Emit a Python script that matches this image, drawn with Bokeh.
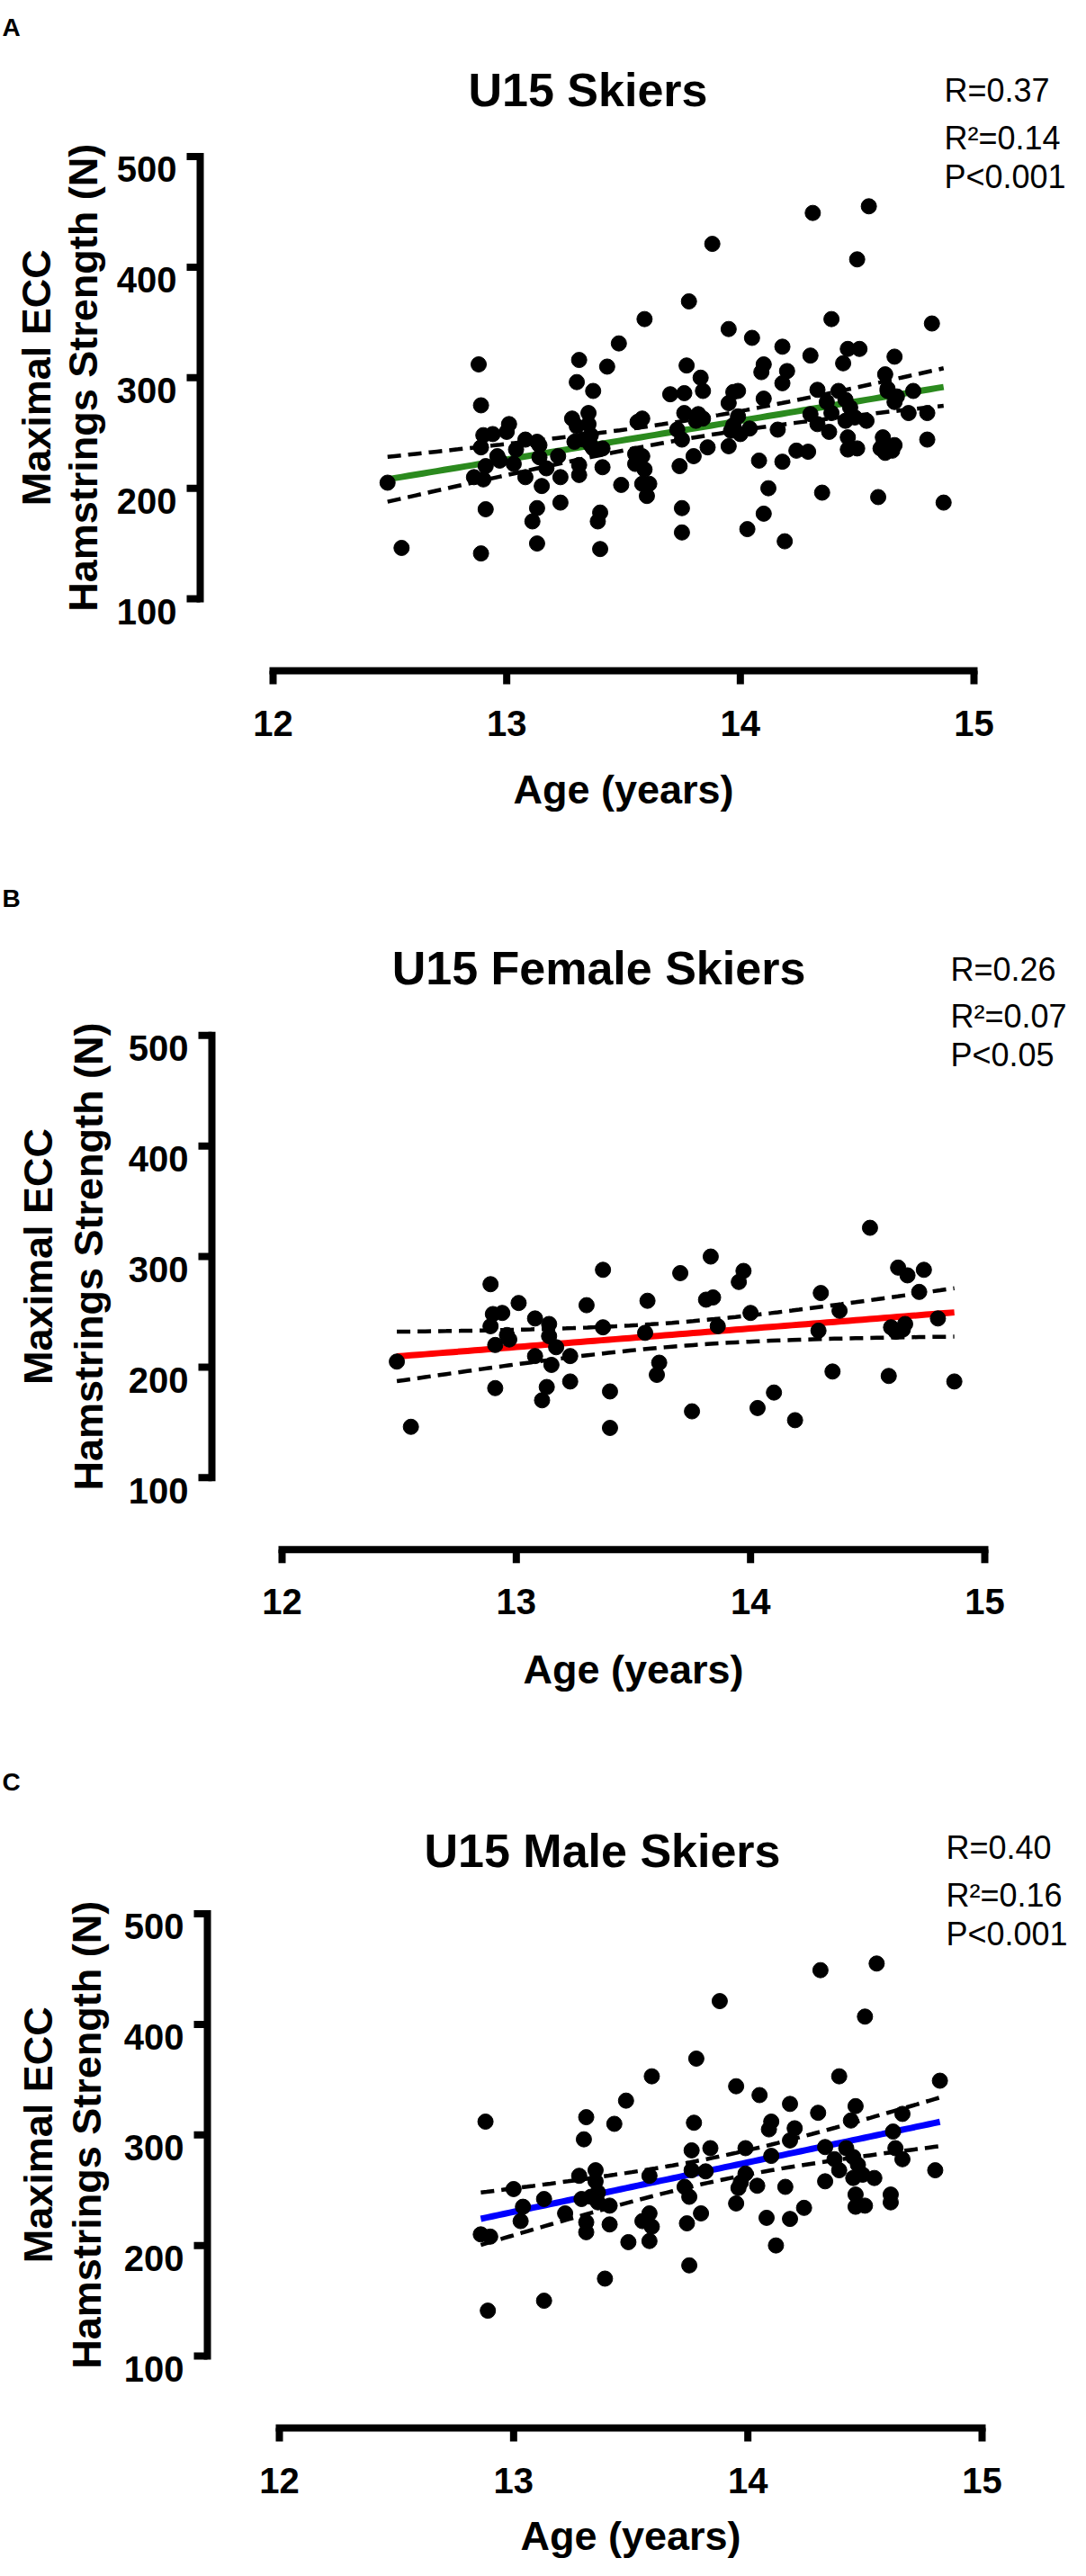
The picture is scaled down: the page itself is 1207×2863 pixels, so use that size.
import math
import numpy as np
from bokeh.plotting import figure
from bokeh.models import Range1d, Label
from bokeh.core.properties import value
from bokeh.embed import file_html
from bokeh.resources import INLINE

# ---------------- data ----------------
female_age = [12.49, 12.55, 12.89, 12.90, 12.89, 12.91, 12.91, 12.94, 12.96, 12.97,
              13.01, 13.08, 13.08, 13.11, 13.13, 13.14, 13.14, 13.15, 13.17, 13.23,
              13.23, 13.30, 13.37, 13.37, 13.40, 13.40, 13.56, 13.55, 13.61, 13.60,
              13.70, 13.75, 13.83, 13.81, 13.84, 13.86, 13.95, 13.97, 14.00, 14.03,
              14.10, 14.19, 14.30, 14.29, 14.35, 14.38, 14.51, 14.59, 14.60, 14.62,
              14.63, 14.65, 14.66, 14.67, 14.74, 14.72, 14.80, 14.87]
female_strength = [205, 146, 275, 248, 237, 220, 181, 249, 229, 225,
                   258, 244, 210, 170, 182, 239, 228, 202, 218, 210,
                   187, 256, 288, 236, 178, 145, 260, 231, 204, 193,
                   285, 160, 300, 261, 263, 237, 277, 287, 249, 163,
                   177, 152, 267, 233, 196, 251, 326, 192, 236, 232,
                   290, 234, 239, 283, 288, 268, 244, 187]

male_age = [12.88, 12.86, 12.90, 12.89, 13.00, 13.04, 13.03, 13.13, 13.13, 13.22,
            13.28, 13.31, 13.30, 13.35, 13.35, 13.36, 13.29, 13.33, 13.36, 13.41,
            13.31, 13.31, 13.41, 13.39, 13.43, 13.48, 13.49, 13.59, 13.58, 13.58,
            13.55, 13.59, 13.58, 13.78, 13.77, 13.76, 13.76, 13.82, 13.73, 13.75,
            13.80, 13.74, 13.75, 13.84, 13.88, 13.95, 14.05, 14.39, 14.82, 14.18,
            14.30, 14.46, 14.66, 14.10, 14.09, 14.20, 14.18, 14.44, 14.62, 13.99,
            14.10, 14.33, 14.42, 14.45, 14.37, 14.63, 14.66, 13.99, 14.47, 14.39,
            14.45, 14.49, 14.54, 13.97, 13.96, 14.04, 14.33, 14.16, 14.80, 13.95,
            14.46, 14.46, 14.50, 14.61, 14.61, 14.24, 14.08, 14.18, 14.12, 14.31,
            14.55, 14.50]
male_strength = [312, 210, 208, 141, 251, 235, 222, 242, 150, 229,
                 263, 316, 296, 268, 258, 248, 242, 244, 239, 236,
                 221, 212, 219, 170, 310, 331, 203, 353, 263, 229,
                 222, 217, 204, 369, 311, 286, 268, 267, 253, 244,
                 229, 220, 182, 288, 421, 344, 336, 353, 349, 328,
                 320, 326, 319, 312, 305, 306, 295, 313, 303, 288,
                 281, 289, 288, 280, 278, 288, 278, 265, 273, 268,
                 261, 264, 261, 257, 252, 254, 258, 253, 268, 238,
                 246, 235, 236, 246, 239, 234, 225, 224, 200, 449,
                 455, 407]

all_age = female_age + male_age
all_strength = female_strength + male_strength

panel_letters = ["A", "B", "C"]
titles = ["U15 Skiers", "U15 Female Skiers", "U15 Male Skiers"]
stats = [["R=0.37", "R\u00b2=0.14", "P<0.001"],
         ["R=0.26", "R\u00b2=0.07", "P<0.05"],
         ["R=0.40", "R\u00b2=0.16", "P<0.001"]]
fit_colors = ["#2b8a1e", "#ff0000", "#0000ff"]
x_ticks = [12, 13, 14, 15]
x_tick_labels = ["12", "13", "14", "15"]
y_ticks = [100, 200, 300, 400, 500]
y_tick_labels = ["100", "200", "300", "400", "500"]
x_label = "Age (years)"
y_label_lines = ["Maximal ECC", "Hamstrings Strength (N)"]

panels_data = [(all_age, all_strength), (female_age, female_strength), (male_age, male_strength)]

# ---------------- layout (pixels) ----------------
FONT = "Liberation Sans"
W = 1190
TOTAL_H = 2847
offsets = [0.0, 976.8, 1953.0]   # top of each panel inside the single canvas
xaxis_px = 745.0                 # offset x axis, panel-local
y500_px, y100_px = 173.5, 665.0
lefts = [222, 235, 230]          # y axis position
x12s = [303, 313, 310]
x15s = [1082, 1094, 1091]
letter_base = [30, 21, 27]
title_cx = [653, 665, 669]
title_base = [99.5, 99, 103]
stat_left = [1049, 1056, 1051]
stat_base = [100, 152.5, 195.5]
ylab_base = [(40, 92), (42, 98), (42, 96)]
xlab_base = [877, 878, 865]
TICK = 15
AXW = 8


def t_crit(df):
    z = 1.959964
    return z + (z ** 3 + z) / (4 * df) + (5 * z ** 5 + 16 * z ** 3 + 3 * z) / (96 * df ** 2)


p = figure(width=W, height=TOTAL_H, output_backend="svg", toolbar_location=None,
           x_range=Range1d(0, 1), y_range=Range1d(0, 1),
           x_axis_location=None, y_axis_location=None, min_border=0)
p.outline_line_color = None
p.grid.visible = False
p.background_fill_color = "white"
p.border_fill_color = "white"

extra_x = {}
extra_y = {}
geo = []
for i in range(3):
    ppx = (x15s[i] - x12s[i]) / 3.0
    ppy = (y100_px - y500_px) / 400.0
    xs = 12 - x12s[i] / ppx
    ye = 500 + (y500_px + offsets[i]) / ppy
    extra_x["x%d" % i] = Range1d(xs, xs + W / ppx)
    extra_y["y%d" % i] = Range1d(ye - TOTAL_H / ppy, ye)
    geo.append((ppx, ppy, xs, ye))
p.extra_x_ranges = extra_x
p.extra_y_ranges = extra_y


def draw_panel(i):
    ages, strength = panels_data[i]
    ppx, ppy, xs, ye = geo[i]
    off = offsets[i]
    rn = dict(x_range_name="x%d" % i, y_range_name="y%d" % i)

    def px2x(px):
        return xs + px / ppx

    def py2y(py):
        return ye - (py + off) / ppy

    # ---- offset axes built from the tick arrays ----
    yax_x = px2x(lefts[i])
    xax_y = py2y(xaxis_px)
    n_y = len(y_ticks)
    n_x = len(x_ticks)
    p.segment(x0=[yax_x], y0=[min(y_ticks)], x1=[yax_x], y1=[max(y_ticks)],
              line_color="black", line_width=AXW, line_cap="square", **rn)
    p.segment(x0=[yax_x] * n_y, y0=y_ticks, x1=[yax_x - TICK / ppx] * n_y, y1=y_ticks,
              line_color="black", line_width=AXW, **rn)
    p.segment(x0=[min(x_ticks)], y0=[xax_y], x1=[max(x_ticks)], y1=[xax_y],
              line_color="black", line_width=AXW, line_cap="square", **rn)
    p.segment(x0=x_ticks, y0=[xax_y] * n_x, x1=x_ticks, y1=[xax_y - TICK / ppy] * n_x,
              line_color="black", line_width=AXW, **rn)
    p.text(x=[yax_x - 26 / ppx] * n_y, y=[v - 14.3 / ppy for v in y_ticks], text=y_tick_labels,
           text_font=value(FONT), text_font_style="bold", text_font_size=value("40px"),
           text_color="black", text_align="right", text_baseline="alphabetic", **rn)
    p.text(x=x_ticks, y=[xax_y - 58 / ppy] * n_x, text=x_tick_labels,
           text_font=value(FONT), text_font_style="bold", text_font_size=value("40px"),
           text_color="black", text_align="center", text_baseline="alphabetic", **rn)

    # ---- regression line and its 95% confidence band ----
    x = np.array(ages, dtype=float)
    y = np.array(strength, dtype=float)
    n = len(x)
    b, a = np.polyfit(x, y, 1)
    resid = y - (a + b * x)
    s = math.sqrt(float(np.sum(resid ** 2)) / (n - 2))
    xm = float(np.mean(x))
    sxx = float(np.sum((x - xm) ** 2))
    grid = np.linspace(x.min(), x.max(), 80)
    fit = a + b * grid
    half = t_crit(n - 2) * s * np.sqrt(1.0 / n + (grid - xm) ** 2 / sxx)

    p.line(grid, fit + half, line_color="black", line_width=4.5, line_dash="15 8", **rn)
    p.line(grid, fit - half, line_color="black", line_width=4.5, line_dash="15 8", **rn)
    p.line(grid, fit, line_color=fit_colors[i], line_width=7, **rn)
    p.scatter(ages, strength, size=17, color="black", **rn)

    def lab(text, px, py, size, bold=True, align="left", angle=0.0, xdata=None, ydata=None):
        p.add_layout(Label(x=px2x(px) if xdata is None else xdata,
                           y=py2y(py) if ydata is None else ydata,
                           text=text, text_font=FONT,
                           text_font_style="bold" if bold else "normal",
                           text_font_size=size, text_color="black",
                           text_align=align, text_baseline="alphabetic",
                           angle=angle, **rn))

    lab(panel_letters[i], 12, letter_base[i], "28px", align="center")
    lab(titles[i], title_cx[i], title_base[i], "52px", align="center")
    for k in range(3):
        lab(stats[i][k], stat_left[i], stat_base[k], "36px", bold=False)
    lab(y_label_lines[0], ylab_base[i][0], 0, "45px", align="center", angle=math.pi / 2, ydata=300)
    lab(y_label_lines[1], ylab_base[i][1], 0, "45px", align="center", angle=math.pi / 2, ydata=300)
    lab(x_label, 0, xlab_base[i], "45px", align="center", xdata=13.5)


for i in range(3):
    draw_panel(i)

open("out.html", "w").write(file_html(p, INLINE))
